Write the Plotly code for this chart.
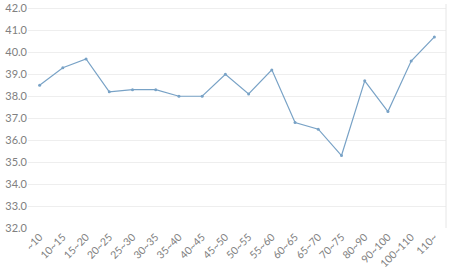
import plotly.graph_objects as go

categories = ["~10", "10~15", "15~20", "20~25", "25~30", "30~35", "35~40", "40~45",
              "45~50", "50~55", "55~60", "60~65", "65~70", "70~75", "80~90", "90~100",
              "100~110", "110~"]
values = [38.5, 39.3, 39.7, 38.2, 38.3, 38.3, 38.0, 38.0, 39.0, 38.1, 39.2,
          36.8, 36.5, 35.3, 38.7, 37.3, 39.6, 40.7]
y_ticks = [32, 33, 34, 35, 36, 37, 38, 39, 40, 41, 42]

fig = go.Figure(go.Scatter(
    x=categories, y=values, mode="lines+markers",
    line=dict(color="#78a2c6", width=1.2),
    marker=dict(size=3, color="#78a2c6"),
    cliponaxis=False,
))

fig.update_layout(
    width=450, height=271,
    margin=dict(l=28, r=4, t=1, b=41),
    paper_bgcolor="white", plot_bgcolor="white",
    showlegend=False,
    font=dict(family="Lato", size=11, color="#808080"),
    xaxis=dict(type="category", range=[-0.5, len(categories) - 0.5], tickangle=-45,
               showgrid=False, zeroline=False, showline=False, ticks="",
               tickfont=dict(size=10.5), ticklabeloverflow="allow"),
    yaxis=dict(range=[32, 42.2], tickvals=y_ticks, tickformat=".1f",
               showgrid=True, gridcolor="#eeeeee", gridwidth=1, zeroline=False,
               ticks="", tickfont=dict(size=11), ticklabeloverflow="allow"),
    shapes=[
        dict(type="line", xref="paper", yref="paper", x0=1, x1=1, y0=0, y1=1.0,
             line=dict(color="#e6e6e6", width=1)),
    ],
)

fig.write_html("out.html")
